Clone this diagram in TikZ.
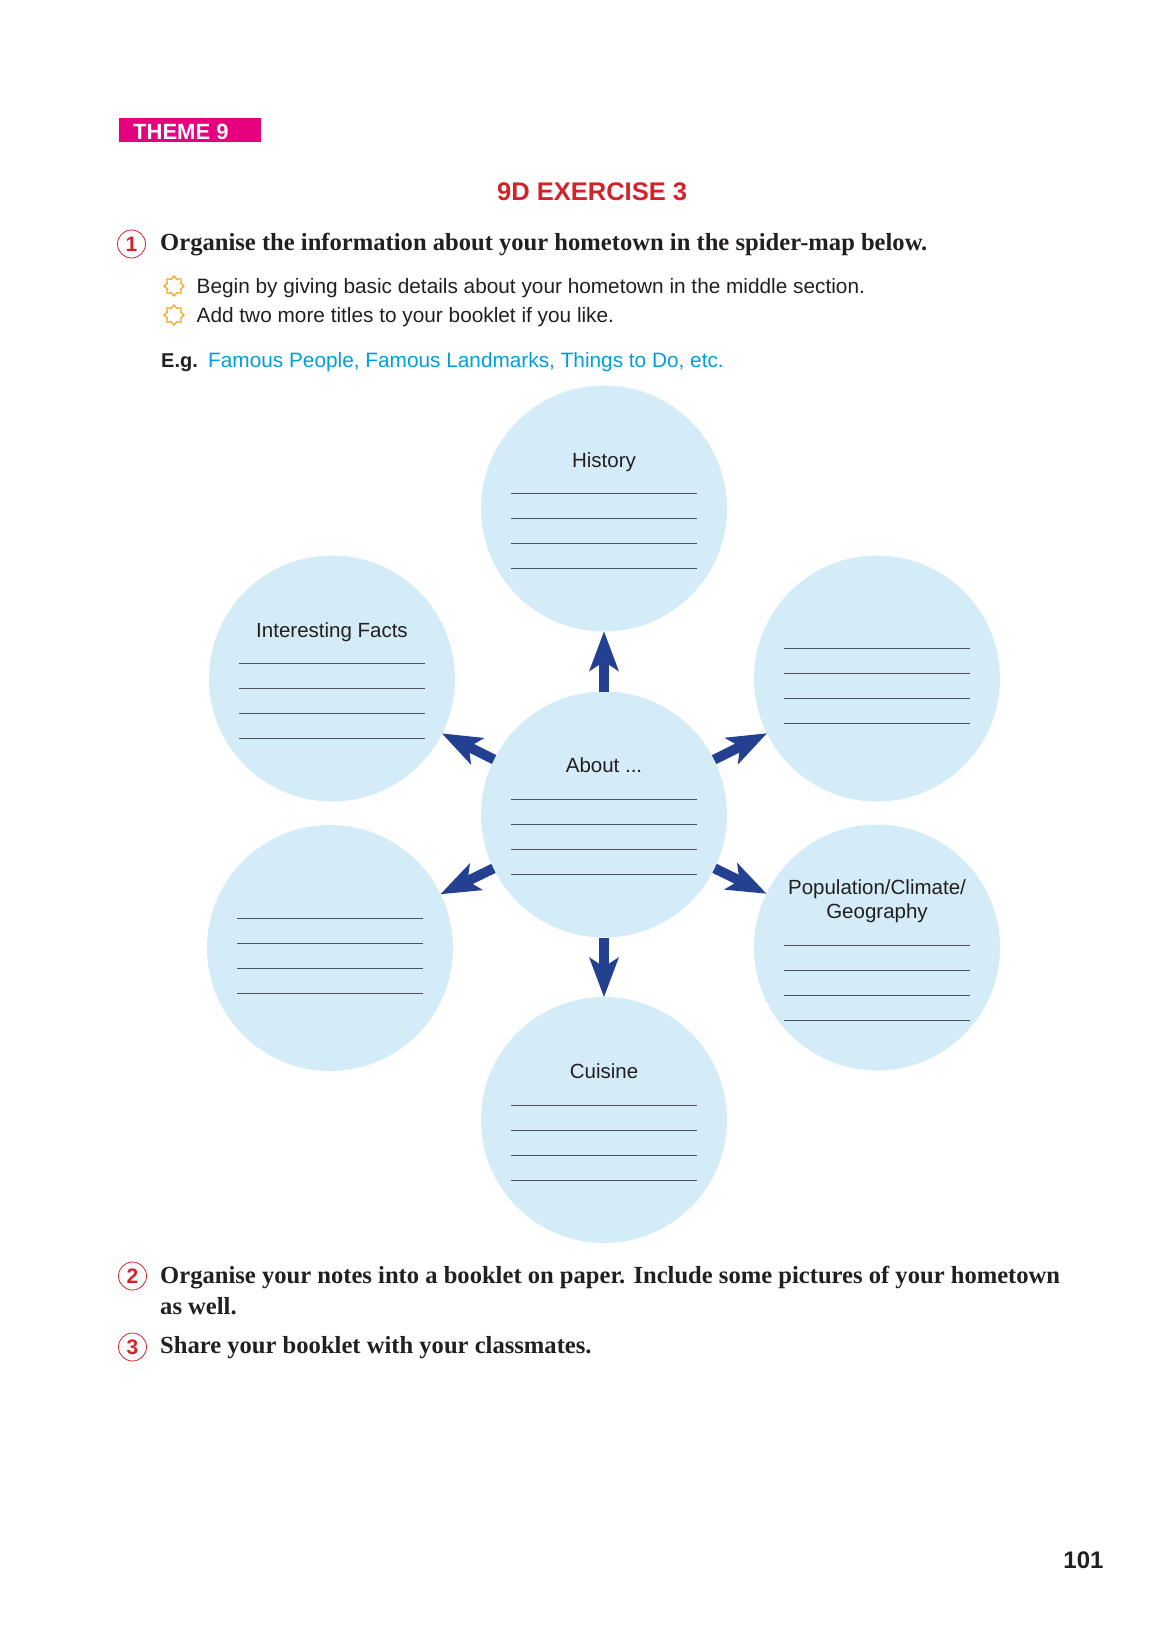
\documentclass[tikz,border=0pt]{standalone}
\usepackage{fontspec}
\setmainfont{Liberation Sans}
\newfontfamily\taskfont{Liberation Serif}
\usetikzlibrary{arrows.meta,shapes.geometric}

\definecolor{spotblue}{RGB}{211,236,248}
\definecolor{arrowblue}{RGB}{36,64,145}
\definecolor{themepink}{RGB}{229,0,125}
\definecolor{exred}{RGB}{210,35,42}
\definecolor{egcyan}{RGB}{0,159,218}
\definecolor{sunorange}{RGB}{245,166,35}
\definecolor{inkgrey}{RGB}{35,31,32}
\definecolor{linegrey}{RGB}{75,82,92}

\begin{document}
\begin{tikzpicture}[x=1pt, y=-1pt, text=inkgrey,
    >={Stealth[length=40pt, width=30pt, inset=10pt, line width=0pt]},
    spot/.style={circle, fill=spotblue, minimum size=246pt, inner sep=0pt, outer sep=0pt},
    arrow/.style={->, color=arrowblue, line width=10pt},
    title/.style={anchor=base, inner sep=0pt, font=\fontsize{20.5}{24}\selectfont},
    body/.style={anchor=base west, inner sep=0pt, font=\fontsize{20.8}{24}\selectfont},
    task/.style={anchor=base west, inner sep=0pt, font=\taskfont\fontsize{24.6}{30}\bfseries},
    num/.style={circle, draw=exred, line width=0.8pt, minimum size=28pt, inner sep=0pt,
                text=exred, font=\fontsize{21}{24}\bfseries},
    sun/.style={star, star points=8, star point ratio=1.35, minimum size=20pt, inner sep=0pt,
                draw=sunorange, line width=1.3pt},
    writeline/.style={draw=linegrey, line width=1pt}]
    \useasboundingbox (0,0) rectangle (1152,1625);

    % header
    \node[fill=themepink, anchor=north west, minimum width=142pt, minimum height=24pt,
          inner sep=0pt] (themebox) at (119,118) {};
    \node[anchor=base west, inner sep=0pt, text=white, font=\fontsize{22}{26}\bfseries]
          (theme) at (133,139.5) {THEME 9};
    \node[anchor=base west, inner sep=0pt, text=exred, font=\fontsize{25.5}{30}\bfseries]
          (exercise) at (497,200) {9D EXERCISE 3};

    % task 1
    \node[num] (numone) at (131.5,244) {1};
    \node[task] (taskone) at (160,250) {Organise the information about your hometown in the spider-map below.};
    \node[sun] (sunone) at (174,286) {};
    \node[body] (hintone) at (196.5,293) {Begin by giving basic details about your hometown in the middle section.};
    \node[sun] (suntwo) at (174,315) {};
    \node[body] (hinttwo) at (196.5,322) {Add two more titles to your booklet if you like.};
    \node[body, font=\fontsize{20}{24}\bfseries] (eg) at (161,367) {E.g.};
    \node[body, text=egcyan] (examples) at (208,367) {Famous People, Famous Landmarks, Things to Do, etc.};

    % spider-map
    \node[spot] (history) at (604,508.5) {};
    \node[spot] (facts) at (332,678.5) {};
    \node[spot] (extraone) at (877,678.5) {};
    \node[spot] (about) at (604,814.5) {};
    \node[spot] (extratwo) at (330,948) {};
    \node[spot] (population) at (877,947.5) {};
    \node[spot] (cuisine) at (604,1120) {};

    \node[title] (historytitle) at ([yshift=41.5pt]history.center) {History};
    \node[title] (factstitle) at ([yshift=41.5pt]facts.center) {Interesting Facts};
    \node[title] (abouttitle) at ([yshift=42pt]about.center) {About ...};
    \node[title] (cuisinetitle) at ([yshift=42pt]cuisine.center) {Cuisine};
    \node[title] (poptitle) at ([yshift=53.5pt]population.center) {Population/Climate/};
    \node[title] (geotitle) at ([yshift=29pt]population.center) {Geography};

    \foreach \c/\o in {history/15, facts/15, about/15, cuisine/15, population/2.5, extraone/30, extratwo/30}
      \foreach \k in {0,...,3}
        \draw[writeline] ([shift={(-93,-\o+25*\k)}]\c.center) -- ++(186,0);

    \foreach \t in {history, extraone, population, cuisine, extratwo, facts}
      \draw[arrow] (about) -- (\t);

    % tasks 2 and 3
    \node[num] (numtwo) at (132.5,1276) {2};
    \node[task] (tasktwo) at (160,1283) {Organise your notes into a booklet on paper. Include some pictures of your hometown};
    \node[task] (tasktwob) at (160,1314) {as well.};
    \node[num] (numthree) at (132.5,1347) {3};
    \node[task] (taskthree) at (160,1353) {Share your booklet with your classmates.};

    \node[anchor=base, inner sep=0pt, font=\fontsize{24}{28}\bfseries] (pagenum) at (1083.5,1568) {101};
\end{tikzpicture}
\end{document}
